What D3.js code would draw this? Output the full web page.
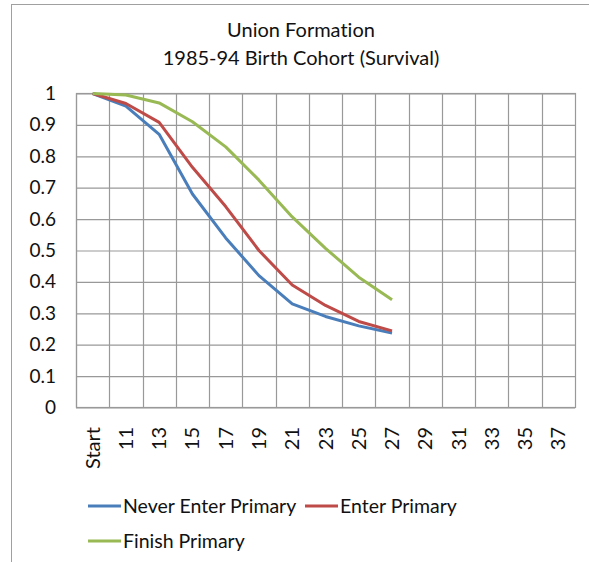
<!DOCTYPE html>
<html>
<head>
<meta charset="utf-8">
<script src="https://cdn.jsdelivr.net/npm/d3@7"></script>
<style>
  body { margin: 0; background: #fff; }
  svg { font-family: Lato, "Open Sans", sans-serif; fill: #111; font-variant-ligatures: none; }
</style>
</head>
<body>
<svg id="chart" width="589" height="562"></svg>
<script>
// Data.
var categories = ["Start", "11", "13", "15", "17", "19", "21", "23", "25", "27",
                  "29", "31", "33", "35", "37"];
var neverEnter  = [1, 0.96, 0.87, 0.68, 0.54, 0.42, 0.33, 0.29, 0.26, 0.237];
var enterPrim   = [1, 0.968, 0.908, 0.765, 0.64, 0.50, 0.39, 0.325, 0.274, 0.244];
var finishPrim  = [1, 0.995, 0.97, 0.91, 0.83, 0.724, 0.607, 0.507, 0.415, 0.343];
var yTicks = [0, 0.1, 0.2, 0.3, 0.4, 0.5, 0.6, 0.7, 0.8, 0.9, 1];

var series = [
  { name: "Never Enter Primary", values: neverEnter, color: "#4a7ebb" },
  { name: "Enter Primary", values: enterPrim, color: "#be4b48" },
  { name: "Finish Primary", values: finishPrim, color: "#98b954" }
];

const svg = d3.select("#chart");
const plotLeft = 76, plotRight = 575, plotTop = 93.5, plotBottom = 407.5;

// outer frame
svg.append("rect")
  .attr("x", 11.5).attr("y", 4.5)
  .attr("width", 600).attr("height", 600)
  .attr("fill", "none").attr("stroke", "#a0a0a0");

// title
svg.append("text")
  .attr("x", 301).attr("y", 37)
  .attr("text-anchor", "middle")
  .attr("font-size", 20)
  .text("Union Formation");
svg.append("text")
  .attr("x", 301).attr("y", 65)
  .attr("text-anchor", "middle")
  .attr("font-size", 20)
  .text("1985-94 Birth Cohort (Survival)");

// Scales.
const x = d3.scaleBand()
  .domain(categories)
  .range([plotLeft, plotRight]);
const y = d3.scaleLinear()
  .domain([0, 1])
  .range([plotBottom, plotTop]);

// grid
const xAxis = d3.axisBottom(x)
  .tickSizeInner(-(plotBottom - plotTop))
  .tickSizeOuter(0)
  .tickFormat("");
svg.append("g")
  .attr("class", "x grid")
  .attr("transform", "translate(0," + plotBottom + ")")
  .call(xAxis)
  .call(g => g.selectAll(".tick").attr("transform", d => "translate(" + (Math.round(x(d)) + 0.5) + ",0)"))
  .call(g => g.select(".domain").remove());

const yAxis = d3.axisLeft(y)
  .tickValues(yTicks)
  .tickSizeInner(-(plotRight - plotLeft))
  .tickSizeOuter(0)
  .tickFormat(d => d === 0 || d === 1 ? d : d.toFixed(1));
svg.append("g")
  .attr("class", "y axis")
  .attr("transform", "translate(" + plotLeft + ",0)")
  .call(yAxis)
  .call(g => g.select(".domain").remove())
  .call(g => g.selectAll("text").attr("font-size", 19)
    .attr("fill", "#111").attr("x", -20).attr("font-family", "Lato, sans-serif"));

svg.selectAll(".grid line, .axis line").attr("stroke", "#999").attr("stroke-width", 1.2);

// plot border
svg.append("rect")
  .attr("x", plotLeft + 0.5).attr("y", plotTop)
  .attr("width", plotRight - plotLeft).attr("height", plotBottom - plotTop)
  .attr("fill", "none").attr("stroke", "#999").attr("stroke-width", 1.2);

// x labels, rotated
svg.append("g")
  .selectAll("text")
  .data(categories)
  .join("text")
  .attr("transform", d => "translate(" + (x(d) + x.bandwidth() / 2 + 7) + "," + 427 + ") rotate(-90)")
  .attr("text-anchor", "end")
  .attr("font-size", 20)
  .text(d => d);

// lines
const line = d3.line()
  .x((d, i) => x(categories[i]) + x.bandwidth() / 2)
  .y(d => y(d));

svg.selectAll(".series")
  .data(series)
  .join("path")
  .attr("class", "series")
  .attr("fill", "none")
  .attr("stroke", d => d.color)
  .attr("stroke-width", 3)
  .attr("stroke-linejoin", "round")
  .attr("d", d => line(d.values));

// legend
const legendPos = [[88, 506], [305, 506], [88, 541]];
const lg = svg.append("g").selectAll("g")
  .data(series)
  .join("g")
  .attr("transform", (d, i) => "translate(" + legendPos[i][0] + "," + legendPos[i][1] + ")");
lg.append("line")
  .attr("x1", 0).attr("x2", 33)
  .attr("stroke", d => d.color).attr("stroke-width", 3);
lg.append("text")
  .attr("x", 35).attr("y", 7)
  .attr("font-size", 19.5)
  .text(d => d.name);
</script>
</body>
</html>
